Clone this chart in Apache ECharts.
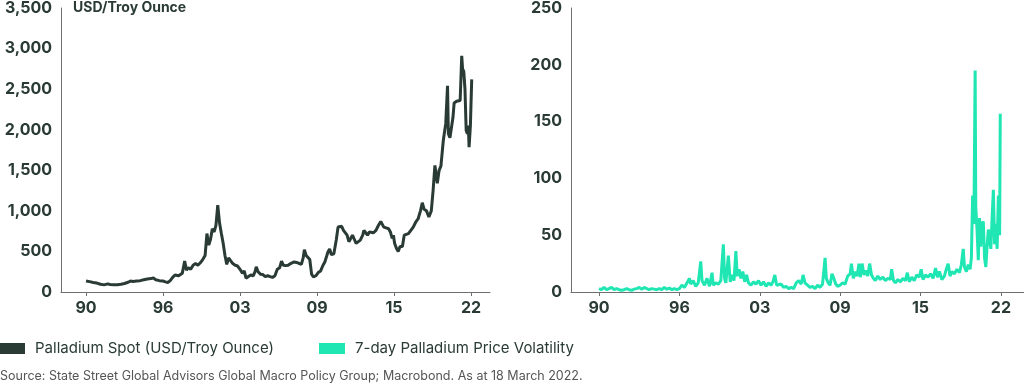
<!DOCTYPE html>
<html>
<head>
<meta charset="utf-8">
<script src="https://cdn.jsdelivr.net/npm/echarts@6/dist/echarts.min.js"></script>
<style>html,body{margin:0;padding:0;background:#fff;}#c{width:1024px;height:392px;}</style>
</head>
<body>
<div id="c"></div>
<script>
// ---- data ----
const tickYears = [1990, 1996.4, 2002.8, 2009.2, 2015.6, 2022];
const tickLabels = ['90', '96', '03', '09', '15', '22'];
const seriesNames = ['Palladium Spot (USD/Troy Ounce)', '7-day Palladium Price Volatility'];
const priceTicks = [0, 500, 1000, 1500, 2000, 2500, 3000, 3500];
const volTicks = [0, 50, 100, 150, 200, 250];

const priceSeries = [
[1990.0,135],[1990.3,128],[1990.6,118],[1990.9,110],[1991.2,95],[1991.5,88],[1991.8,100],[1992.0,92],
[1992.3,88],[1992.6,90],[1992.9,95],[1993.2,105],[1993.5,120],[1993.7,135],[1993.9,130],[1994.2,135],
[1994.5,140],[1994.8,150],[1995.1,160],[1995.4,165],[1995.6,175],[1995.8,150],[1996.1,140],[1996.4,135],
[1996.6,125],[1996.8,118],[1997.0,140],[1997.2,180],[1997.4,210],[1997.7,200],[1998.0,230],[1998.2,380],
[1998.35,270],[1998.5,300],[1998.7,280],[1998.9,330],[1999.1,350],[1999.3,330],[1999.5,360],[1999.7,400],
[1999.9,450],[2000.05,720],[2000.2,580],[2000.35,650],[2000.5,780],[2000.65,740],[2000.8,820],[2000.95,1070],
[2001.1,850],[2001.25,720],[2001.4,600],[2001.55,450],[2001.7,340],[2001.85,420],[2002.0,390],[2002.2,350],
[2002.4,330],[2002.6,320],[2002.8,280],[2003.0,230],[2003.15,260],[2003.3,170],[2003.5,190],[2003.7,210],
[2003.9,200],[2004.05,250],[2004.15,310],[2004.3,250],[2004.5,220],[2004.7,215],[2004.9,190],[2005.1,200],
[2005.3,190],[2005.5,180],[2005.7,200],[2005.9,280],[2006.1,300],[2006.25,380],[2006.4,330],[2006.6,325],
[2006.8,330],[2007.0,350],[2007.3,370],[2007.6,360],[2007.9,340],[2008.05,420],[2008.15,520],[2008.3,450],
[2008.45,440],[2008.6,400],[2008.75,220],[2008.9,185],[2009.1,200],[2009.3,240],[2009.5,260],[2009.7,330],
[2009.85,370],[2010.0,440],[2010.1,490],[2010.25,530],[2010.4,460],[2010.6,470],[2010.8,640],[2010.95,800],
[2011.1,780],[2011.25,810],[2011.4,760],[2011.55,780],[2011.7,700],[2011.85,620],[2012.0,630],[2012.15,700],
[2012.3,650],[2012.45,600],[2012.6,580],[2012.8,640],[2013.0,700],[2013.1,760],[2013.25,730],[2013.4,700],
[2013.55,740],[2013.7,720],[2013.9,730],[2014.1,760],[2014.3,820],[2014.5,870],[2014.6,880],[2014.75,800],
[2014.95,790],[2015.15,780],[2015.3,740],[2015.45,660],[2015.55,700],[2015.65,600],[2015.8,540],[2015.95,500],
[2016.1,560],[2016.3,560],[2016.45,700],[2016.6,680],[2016.8,720],[2017.0,760],[2017.2,800],[2017.4,860],
[2017.6,900],[2017.8,1000],[2017.95,1100],[2018.1,1020],[2018.3,1000],[2018.5,925],[2018.7,1000],[2018.85,1250],
[2019.0,1560],[2019.2,1340],[2019.35,1500],[2019.5,1550],[2019.7,1870],[2019.9,2075],[2020.05,2540],[2020.12,1950],
[2020.25,1900],[2020.35,1920],[2020.5,2150],[2020.6,2330],[2020.8,2350],[2020.95,2330],[2021.1,2360],[2021.23,2910],
[2021.3,2750],[2021.4,2720],[2021.5,2500],[2021.6,1990],[2021.7,1950],[2021.78,2050],[2021.84,1785],[2021.95,2050],
[2022.06,2620]
];

const volSeries = [
[1990.0,3],[1990.2,2],[1990.4,4],[1990.6,2],[1990.8,3],[1991.0,4],[1991.2,2],[1991.4,3],[1991.6,2],[1991.8,1.5],
[1992.0,2],[1992.2,3],[1992.4,2],[1992.6,1.5],[1992.8,2.5],[1993.0,3],[1993.2,4],[1993.4,2.5],[1993.6,4],[1993.8,3],
[1994.0,2],[1994.2,3],[1994.4,2.5],[1994.6,2],[1994.8,3],[1995.0,2],[1995.2,4],[1995.4,2.5],[1995.6,3.5],[1995.8,2],
[1996.0,3],[1996.2,2],[1996.4,3],[1996.6,6],[1996.8,4],[1997.0,8],[1997.2,12],[1997.3,7],[1997.5,10],[1997.7,5],
[1997.9,8],[1998.1,27],[1998.2,10],[1998.4,6],[1998.6,12],[1998.8,5],[1999.0,17],[1999.1,6],[1999.3,8],[1999.5,7],
[1999.7,10],[1999.9,42],[2000.0,12],[2000.1,8],[2000.3,32],[2000.45,9],[2000.6,15],[2000.75,10],[2000.9,36],[2001.0,14],
[2001.15,20],[2001.3,12],[2001.45,18],[2001.6,9],[2001.75,15],[2001.9,8],[2002.1,6],[2002.3,9],[2002.5,7],[2002.7,10],
[2002.9,6],[2003.1,9],[2003.3,5],[2003.5,8],[2003.7,6],[2003.85,9],[2004.0,15],[2004.15,6],[2004.3,5],[2004.5,7],
[2004.7,4],[2004.9,5],[2005.1,3],[2005.3,4],[2005.5,3],[2005.7,8],[2005.9,10],[2006.1,7],[2006.25,15],[2006.4,8],
[2006.6,6],[2006.8,4],[2007.0,5],[2007.2,3],[2007.4,6],[2007.6,4],[2007.8,7],[2008.0,30],[2008.1,12],[2008.25,8],
[2008.4,6],[2008.55,16],[2008.7,12],[2008.85,7],[2009.0,5],[2009.2,6],[2009.4,8],[2009.6,7],[2009.8,14],[2010.0,16],
[2010.1,25],[2010.25,12],[2010.4,18],[2010.55,14],[2010.7,25],[2010.8,13],[2010.95,25],[2011.1,15],[2011.25,19],[2011.4,14],
[2011.55,25],[2011.7,15],[2011.85,12],[2012.0,10],[2012.2,14],[2012.4,11],[2012.6,13],[2012.8,10],[2013.0,12],[2013.2,11],
[2013.3,20],[2013.45,10],[2013.6,8],[2013.8,11],[2014.0,9],[2014.2,12],[2014.4,10],[2014.55,17],[2014.7,9],[2014.9,13],
[2015.1,10],[2015.3,15],[2015.5,13],[2015.65,20],[2015.8,11],[2016.0,15],[2016.2,13],[2016.4,16],[2016.6,12],[2016.8,21],
[2016.95,13],[2017.1,18],[2017.3,11],[2017.5,14],[2017.65,20],[2017.8,25],[2017.95,14],[2018.1,18],[2018.3,16],[2018.5,20],
[2018.7,17],[2018.85,24],[2019.0,38],[2019.1,22],[2019.25,18],[2019.4,24],[2019.55,20],[2019.65,30],[2019.75,85],[2019.85,60],
[2019.95,195],[2020.0,75],[2020.1,55],[2020.2,28],[2020.3,65],[2020.4,40],[2020.5,60],[2020.6,62],[2020.7,30],[2020.8,22],
[2020.9,40],[2021.0,55],[2021.1,45],[2021.2,38],[2021.3,65],[2021.4,90],[2021.5,42],[2021.6,60],[2021.7,38],[2021.8,85],
[2021.9,50],[2021.95,157]
];

// ---- styles ----
const DARK = '#2a3b35';
const TEAL = '#1fe6b2';
const AXIS = '#6f6f6f';
const LABEL_FONT = 'Inter, "DejaVu Sans", sans-serif';

function tickLabel(v) {
  let best = 0, bd = 1e9;
  tickYears.forEach((t, i) => { const d = Math.abs(t - v); if (d < bd) { bd = d; best = i; } });
  return tickLabels[best];
}

function xAxisDef(grid, min, max) {
  return {
    type: 'value', gridIndex: grid, min: min, max: max,
    axisLine: { show: true, lineStyle: { color: AXIS, width: 1 } },
    axisTick: { show: true, customValues: tickYears, length: 4, lineStyle: { color: AXIS } },
    axisLabel: { customValues: tickYears, formatter: tickLabel, margin: 8,
      color: DARK, fontFamily: LABEL_FONT, fontWeight: 700, fontSize: 16 },
    splitLine: { show: false }
  };
}
function yAxisDef(grid, max, interval) {
  return {
    type: 'value', gridIndex: grid, min: 0, max: max, interval: interval,
    axisLine: { show: true, lineStyle: { color: AXIS, width: 1 } },
    axisTick: { show: false },
    axisLabel: { margin: 9, color: DARK, fontFamily: LABEL_FONT, fontWeight: 700, fontSize: 16,
      formatter: v => v.toLocaleString('en-US') },
    splitLine: { show: false }
  };
}

const legendText = { color: DARK, fontSize: 15, fontFamily: 'Inter, "Liberation Sans", sans-serif',
  fontWeight: 400, lineHeight: 15, padding: [0, 0, 0, 5] };

const chart = echarts.init(document.getElementById('c'), null, { renderer: 'canvas' });
chart.setOption({
  animation: false,
  backgroundColor: '#fff',
  grid: [
    { left: 61, top: 7, width: 429, height: 285 },
    { left: 571, top: 7, width: 453, height: 285 }
  ],
  xAxis: [xAxisDef(0, 1987.92, 2023.58), xAxisDef(1, 1987.77, 2023.84)],
  yAxis: [yAxisDef(0, priceTicks[priceTicks.length - 1], priceTicks[1]),
          yAxisDef(1, volTicks[volTicks.length - 1], volTicks[1])],
  legend: [
    { data: [seriesNames[0]], left: 0, top: 341, padding: 0, icon: 'rect', itemWidth: 25, itemHeight: 11,
      textStyle: legendText },
    { data: [seriesNames[1]], left: 319, top: 341, padding: 0, icon: 'rect', itemWidth: 26, itemHeight: 11,
      textStyle: legendText }
  ],
  graphic: [
    { type: 'text', left: 73, top: 1, style: { text: 'USD/Troy Ounce', fill: DARK,
      font: '700 14px Inter, "DejaVu Sans", sans-serif' } },
    { type: 'text', left: 0, top: 370, style: {
      text: 'Source: State Street Global Advisors Global Macro Policy Group; Macrobond. As at 18 March 2022.',
      fill: '#555', font: '12.5px Inter, "Liberation Sans", sans-serif' } }
  ],
  series: [
    { name: seriesNames[0], type: 'line', xAxisIndex: 0, yAxisIndex: 0, data: priceSeries,
      showSymbol: false, lineStyle: { color: DARK, width: 3 }, itemStyle: { color: DARK } },
    { name: seriesNames[1], type: 'line', xAxisIndex: 1, yAxisIndex: 1, data: volSeries,
      showSymbol: false, lineStyle: { color: TEAL, width: 3 }, itemStyle: { color: TEAL } }
  ]
});
</script>
</body>
</html>
